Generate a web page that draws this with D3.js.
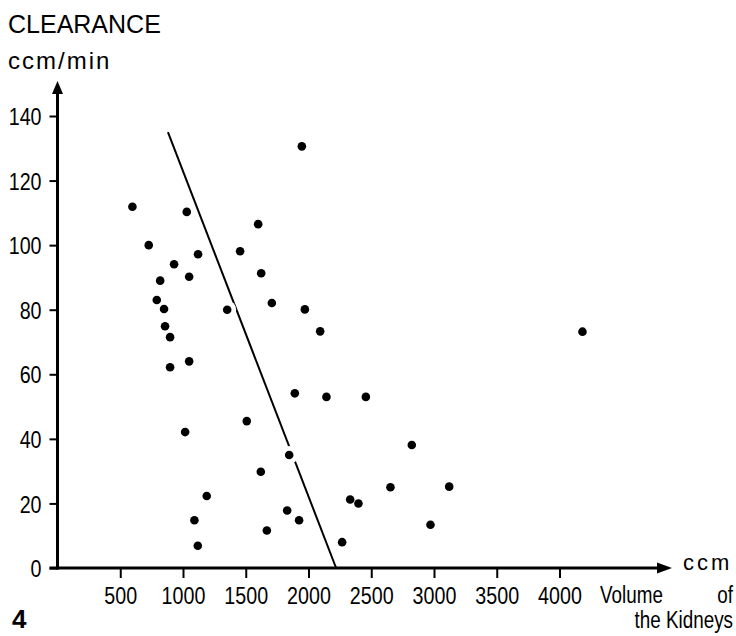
<!DOCTYPE html>
<html>
<head>
<meta charset="utf-8">
<script src="https://cdn.jsdelivr.net/npm/d3@7"></script>
<style>
	body { margin: 0; background: #fff; }
	svg { display: block; }
	text { font-family: "Liberation Sans", Arial, sans-serif; fill: #000; }
</style>
</head>
<body>
<svg id="chart" width="736" height="636"></svg>
<script>
// data
const volume = [1947, 597, 1030, 1599, 727, 1455, 1120, 929, 1623, 1049, 818, 791, 1708, 849, 1971, 1352,
	2093, 857, 897, 1049, 897, 1891, 2143, 2457, 4183, 1508, 1017, 2823, 1846, 1620, 2653, 3121,
	1189, 2332, 2398, 1830, 1091, 1925, 2972, 1668, 2268, 1118]
const clearance = [130.6, 111.9, 110.3, 106.5, 100, 98.1, 97.2, 94.1, 91.3, 90.2, 89.0, 83.0, 82.1, 80.2, 80.1, 80.0,
	73.3, 74.9, 71.5, 64.0, 62.2, 54.1, 53.0, 53.0, 73.2, 45.5, 42.1, 38.1, 35.0, 29.8, 25.0, 25.2,
	22.3, 21.2, 20.0, 17.8, 14.8, 14.8, 13.4, 11.6, 8.0, 6.9]

// regression line end points
const lineVolume = [880, 2220]
const lineClearance = [135, 0]

// tick labels
const xTicks = [500, 1000, 1500, 2000, 2500, 3000, 3500, 4000]
const yTicks = [0, 20, 40, 60, 80, 100, 120, 140]

// the print uses a narrow face, so squeeze the text a bit
const squeeze = 0.82

let points = volume.map(function (v, i) {
	return { v: v, c: clearance[i] }
})

let svg = d3.select("#chart")

// scales
let xScale = d3.scaleLinear().domain([0, 4000]).range([57.5, 559.5])
let yScale = d3.scaleLinear().domain([0, 140]).range([568, 116])

let x0 = xScale(0), y0 = yScale(0)

// x axis ticks + labels
let xAxis = svg.append("g")
	.attr("transform", "translate(0," + y0 + ")")
	.call(d3.axisBottom(xScale).tickValues(xTicks).tickFormat(d3.format("d")).tickSize(10).tickSizeOuter(0))
xAxis.select(".domain").remove()
xAxis.selectAll("line").attr("stroke", "#000").attr("stroke-width", 2)
xAxis.selectAll("text")
	.attr("dy", null)
	.attr("y", 36)
	.attr("font-size", 24)
	.attr("font-family", null)
	.attr("fill", "#000")
	.attr("transform", "scale(" + squeeze + ",1)")

// y axis ticks + labels
let yAxis = svg.append("g")
	.attr("transform", "translate(" + x0 + ",0)")
	.call(d3.axisLeft(yScale).tickValues(yTicks).tickSize(8).tickSizeOuter(0))
yAxis.select(".domain").remove()
yAxis.selectAll("line").attr("stroke", "#000").attr("stroke-width", 2)
yAxis.selectAll("text")
	.attr("x", -16 / squeeze)
	.attr("dy", "0.36em")
	.attr("font-size", 24)
	.attr("fill", "#000")
	.attr("transform", "scale(" + squeeze + ",1)")
svg.selectAll("g").attr("font-family", null)

// axis lines with arrows
svg.append("line")
	.attr("x1", x0 - 8).attr("y1", y0)
	.attr("x2", 660).attr("y2", y0)
	.attr("stroke", "#000").attr("stroke-width", 3)
svg.append("path")
	.attr("d", "M657," + (y0 - 5.5) + "L672," + y0 + "L657," + (y0 + 5.5) + "Z")
	.attr("fill", "#000")

svg.append("line")
	.attr("x1", x0).attr("y1", y0 + 1.5)
	.attr("x2", x0).attr("y2", 90)
	.attr("stroke", "#000").attr("stroke-width", 3)
svg.append("path")
	.attr("d", "M" + (x0 - 5.5) + ",94L" + x0 + ",81L" + (x0 + 5.5) + ",94Z")
	.attr("fill", "#000")

// regression line
svg.append("line")
	.attr("x1", xScale(lineVolume[0])).attr("y1", yScale(lineClearance[0]))
	.attr("x2", xScale(lineVolume[1])).attr("y2", yScale(lineClearance[1]))
	.attr("stroke", "#000").attr("stroke-width", 2)

// white gap where a dot sits on the line
svg.append("g").selectAll("circle")
	.data(points)
	.join("circle")
	.attr("cx", d => xScale(d.v))
	.attr("cy", d => yScale(d.c))
	.attr("r", 9)
	.attr("fill", "#fff")

// dots
svg.append("g").selectAll("circle")
	.data(points)
	.join("circle")
	.attr("cx", d => xScale(d.v))
	.attr("cy", d => yScale(d.c))
	.attr("r", 4.3)
	.attr("fill", "#000")

// narrow text helper
function narrowText(x, y, str, size, anchor) {
	svg.append("g")
		.attr("transform", "translate(" + x + "," + y + ")")
		.append("text")
		.attr("transform", "scale(" + squeeze + ",1)")
		.attr("text-anchor", anchor || "start")
		.attr("font-size", size)
		.text(str)
}

// titles
svg.append("text")
	.attr("x", 8).attr("y", 33)
	.attr("font-size", 25)
	.text("CLEARANCE")
svg.append("text")
	.attr("x", 8).attr("y", 69)
	.attr("font-size", 24)
	.attr("letter-spacing", 2)
	.text("ccm/min")

svg.append("text")
	.attr("x", 683).attr("y", 570)
	.attr("font-size", 22)
	.attr("letter-spacing", 3)
	.text("ccm")
narrowText(600, 603, "Volume", 23)
narrowText(733, 603, "of", 23, "end")
narrowText(733, 628, "the Kidneys", 23, "end")

// figure number
svg.append("text")
	.attr("x", 12).attr("y", 628)
	.attr("font-size", 26)
	.attr("font-weight", "bold")
	.text("4")
</script>
</body>
</html>
